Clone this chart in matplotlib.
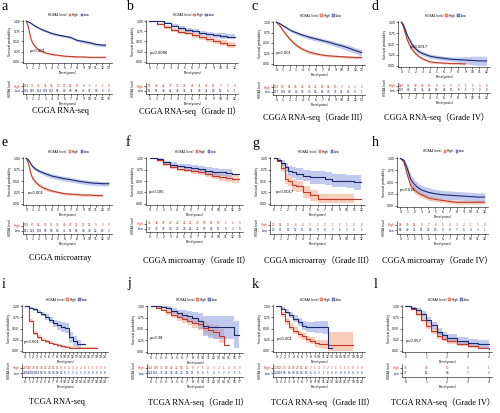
import numpy as np
import matplotlib.pyplot as plt
from matplotlib.patches import Patch

nan = np.nan

# ---- a : CGGA RNA-seq
a_t = [0, 0.25, 0.5, 0.75, 1, 1.5, 2, 2.5, 3, 4, 5, 6, 7, 8, 9, 10, 11, 12, 12.5]
a_high = [1.00, 0.90, 0.72, 0.56, 0.46, 0.36, 0.29, 0.25, 0.22, 0.18, 0.16, 0.14, 0.13, 0.12, 0.12, 0.11, 0.11, 0.11, 0.11]
a_high_ci = [0, 0.02, 0.03, 0.03, 0.03, 0.03, 0.03, 0.02, 0.02, 0.02, 0.02, 0.02, 0.02, 0.02, 0.02, 0.02, 0.02, 0.02, 0.02]
a_low = [1.00, 0.99, 0.97, 0.95, 0.92, 0.87, 0.83, 0.79, 0.76, 0.70, 0.66, 0.63, 0.60, 0.53, 0.50, 0.47, 0.43, 0.41, 0.41]
a_low_ci = [0, 0.01, 0.01, 0.02, 0.02, 0.02, 0.02, 0.03, 0.03, 0.03, 0.03, 0.03, 0.03, 0.03, 0.04, 0.04, 0.04, 0.04, 0.04]
a_ticks = list(range(0, 14))
a_risk_high = [162, 72, 45, 34, 26, 20, 17, 14, 11, 8, 5, 3, 1, 0]
a_risk_low = [163, 150, 134, 118, 102, 90, 80, 69, 58, 43, 30, 18, 6, 0]

# ---- b : CGGA RNA-seq (Grade II)
b_t = list(range(0, 13))
b_high = [1.00, 0.93, 0.85, 0.79, 0.74, 0.70, 0.65, 0.60, 0.55, 0.50, 0.46, 0.42, 0.42]
b_high_ci = [0, 0.03, 0.04, 0.05, 0.05, 0.05, 0.06, 0.06, 0.07, 0.07, 0.08, 0.08, 0.08]
b_low = [1.00, 1.00, 0.95, 0.89, 0.83, 0.79, 0.75, 0.71, 0.68, 0.65, 0.63, 0.62, 0.62]
b_low_ci = [0, 0.01, 0.03, 0.04, 0.04, 0.05, 0.05, 0.06, 0.06, 0.07, 0.07, 0.07, 0.07]
b_ticks = list(range(0, 13))
b_risk_high = [51, 48, 42, 37, 33, 29, 25, 21, 17, 12, 7, 3, 0]
b_risk_low = [52, 51, 48, 44, 40, 36, 32, 28, 24, 18, 12, 6, 1]

# ---- c : CGGA RNA-seq (Grade III)
c_t = [0, 0.5, 1, 1.5, 2, 2.5, 3, 4, 5, 6, 7, 8, 9, 10, 11, 12, 13]
c_high = [1.00, 0.92, 0.80, 0.70, 0.60, 0.52, 0.45, 0.35, 0.28, 0.24, 0.21, 0.19, 0.18, 0.17, 0.16, 0.15, 0.15]
c_high_ci = [0, 0.02, 0.03, 0.04, 0.04, 0.04, 0.04, 0.04, 0.04, 0.03, 0.03, 0.03, 0.03, 0.03, 0.03, 0.03, 0.03]
c_low = [1.00, 0.97, 0.92, 0.87, 0.82, 0.78, 0.75, 0.69, 0.64, 0.60, 0.56, 0.52, 0.47, 0.43, 0.38, 0.32, 0.27]
c_low_ci = [0, 0.01, 0.02, 0.03, 0.03, 0.04, 0.04, 0.04, 0.05, 0.05, 0.05, 0.05, 0.06, 0.06, 0.07, 0.07, 0.08]
c_ticks = list(range(0, 14))
c_risk_high = [118, 80, 52, 40, 32, 27, 22, 18, 14, 10, 7, 4, 2, 0]
c_risk_low = [117, 108, 96, 86, 78, 70, 62, 54, 45, 35, 25, 15, 6, 1]

# ---- d : CGGA RNA-seq (Grade IV)
d_t = [0, 0.25, 0.5, 0.75, 1, 1.5, 2, 2.5, 3, 4, 5, 6, 7, 8, 9, 10, 11, 12]
d_high = [1.00, 0.92, 0.78, 0.63, 0.53, 0.38, 0.28, 0.21, 0.16, 0.09, 0.07, 0.06, 0.05, 0.05, 0.04, nan, nan, nan]
d_high_ci = [0, 0.03, 0.04, 0.04, 0.04, 0.04, 0.04, 0.03, 0.03, 0.03, 0.02, 0.02, 0.02, 0.02, 0.02, 0, 0, 0]
d_low = [1.00, 0.95, 0.85, 0.73, 0.64, 0.49, 0.39, 0.32, 0.28, 0.22, 0.19, 0.17, 0.15, 0.14, 0.13, 0.12, 0.11, 0.11]
d_low_ci = [0, 0.02, 0.03, 0.04, 0.04, 0.05, 0.05, 0.05, 0.05, 0.05, 0.05, 0.05, 0.05, 0.06, 0.08, 0.10, 0.11, 0.11]
d_ticks = list(range(0, 13))
d_risk_high = [140, 66, 30, 18, 10, 6, 4, 3, 2, 1, 0, 0, 0]
d_risk_low = [139, 88, 52, 34, 24, 18, 14, 11, 8, 5, 3, 2, 0]

# ---- e : CGGA microarray
e_t = [0, 0.25, 0.5, 0.75, 1, 1.5, 2, 2.5, 3, 4, 5, 6, 7, 8, 9, 10, 11, 12, 13]
e_high = [1.00, 0.93, 0.80, 0.65, 0.56, 0.47, 0.41, 0.36, 0.33, 0.28, 0.25, 0.22, 0.21, 0.20, 0.19, 0.19, 0.18, 0.18, nan]
e_high_ci = [0, 0.02, 0.03, 0.03, 0.04, 0.04, 0.04, 0.04, 0.04, 0.03, 0.03, 0.03, 0.03, 0.03, 0.03, 0.03, 0.03, 0.03, 0]
e_low = [1.00, 0.98, 0.93, 0.87, 0.82, 0.76, 0.72, 0.69, 0.66, 0.61, 0.58, 0.55, 0.53, 0.50, 0.48, 0.46, 0.45, 0.44, 0.44]
e_low_ci = [0, 0.01, 0.02, 0.03, 0.04, 0.04, 0.04, 0.04, 0.05, 0.05, 0.05, 0.05, 0.05, 0.05, 0.05, 0.05, 0.05, 0.05, 0.05]
e_ticks = list(range(0, 14))
e_risk_high = [150, 87, 62, 49, 41, 35, 30, 27, 24, 20, 15, 9, 3, 0]
e_risk_low = [151, 124, 108, 98, 88, 80, 72, 65, 58, 48, 36, 22, 10, 2]

# ---- f : CGGA microarray (Grade II)
f_t = list(range(0, 14))
f_high = [1.00, 0.96, 0.88, 0.82, 0.77, 0.75, 0.72, 0.69, 0.66, 0.62, 0.58, 0.56, 0.55, 0.55]
f_high_ci = [0, 0.03, 0.04, 0.05, 0.05, 0.06, 0.06, 0.06, 0.07, 0.07, 0.08, 0.08, 0.09, 0.09]
f_low = [1.00, 0.98, 0.91, 0.86, 0.83, 0.81, 0.79, 0.76, 0.73, 0.70, 0.69, 0.68, 0.66, nan]
f_low_ci = [0, 0.02, 0.04, 0.05, 0.05, 0.06, 0.06, 0.07, 0.07, 0.08, 0.08, 0.09, 0.09, 0]
f_ticks = list(range(0, 14))
f_risk_high = [33, 32, 29, 27, 25, 24, 22, 20, 18, 15, 10, 5, 2, 0]
f_risk_low = [33, 33, 30, 28, 27, 26, 24, 22, 19, 16, 11, 6, 2, 0]

# ---- g : CGGA microarray (Grade III)
g_t = [0, 0.5, 1, 1.5, 2, 2.5, 3, 4, 5, 6, 7, 8, 9, 10, 11, 12]
g_high = [1.00, 0.95, 0.78, 0.55, 0.50, 0.42, 0.38, 0.26, 0.18, 0.11, 0.11, 0.11, 0.11, 0.11, 0.11, nan]
g_high_ci = [0, 0.04, 0.09, 0.12, 0.12, 0.13, 0.13, 0.13, 0.12, 0.10, 0.10, 0.10, 0.10, 0.10, 0.10, 0]
g_low = [1.00, 0.97, 0.90, 0.80, 0.72, 0.69, 0.66, 0.62, 0.58, 0.58, 0.55, 0.51, 0.51, 0.49, 0.47, 0.47]
g_low_ci = [0, 0.03, 0.07, 0.10, 0.12, 0.12, 0.13, 0.13, 0.14, 0.14, 0.14, 0.15, 0.15, 0.15, 0.16, 0.16]
g_ticks = list(range(0, 13))
g_risk_high = [20, 14, 8, 6, 4, 3, 2, 2, 1, 1, 1, 0, 0]
g_risk_low = [20, 17, 13, 12, 11, 10, 9, 8, 7, 5, 3, 2, 1]

# ---- h : CGGA microarray (Grade IV)
h_t = [0, 0.5, 1, 1.5, 2, 2.5, 3, 4, 5, 6, 7, 8, 9, 10, 11, 12]
h_high = [1.00, 0.93, 0.65, 0.42, 0.33, 0.27, 0.23, 0.16, 0.13, 0.11, 0.09, 0.07, 0.07, 0.07, 0.07, 0.07]
h_high_ci = [0, 0.04, 0.07, 0.07, 0.07, 0.06, 0.06, 0.05, 0.05, 0.04, 0.04, 0.04, 0.04, 0.04, 0.04, 0.04]
h_low = [1.00, 0.96, 0.78, 0.55, 0.45, 0.38, 0.33, 0.28, 0.25, 0.23, 0.22, 0.21, 0.20, 0.19, 0.18, 0.18]
h_low_ci = [0, 0.03, 0.08, 0.10, 0.10, 0.10, 0.10, 0.10, 0.09, 0.09, 0.09, 0.09, 0.09, 0.09, 0.09, 0.09]
h_ticks = list(range(0, 13))
h_risk_high = [58, 30, 14, 9, 7, 6, 5, 4, 3, 2, 1, 1, 0]
h_risk_low = [58, 40, 22, 15, 12, 10, 9, 8, 7, 6, 4, 3, 1]

# ---- i : TCGA RNA-seq
i_t = list(range(0, 19))
i_high = [1.00, 0.68, 0.40, 0.31, 0.25, 0.21, 0.18, 0.15, 0.12, 0.10, 0.08, 0.07, 0.07, 0.06, 0.06, 0.06, 0.06, 0.06, 0.06]
i_high_ci = [0, 0.04, 0.04, 0.04, 0.04, 0.03, 0.03, 0.03, 0.03, 0.03, 0.03, 0.03, 0.03, 0.03, 0.03, 0.03, 0.03, 0.03, 0.03]
i_low = [1.00, 0.97, 0.93, 0.88, 0.83, 0.76, 0.70, 0.62, 0.57, 0.53, 0.51, 0.30, 0.22, 0.14, 0.14, nan, nan, nan, nan]
i_low_ci = [0, 0.02, 0.03, 0.04, 0.05, 0.06, 0.07, 0.08, 0.10, 0.11, 0.12, 0.13, 0.12, 0.10, 0.10, 0, 0, 0, 0]
i_ticks = list(range(0, 21))
i_risk_high = [257, 150, 78, 50, 36, 27, 20, 15, 11, 8, 6, 4, 3, 2, 2, 1, 1, 1, 0, 0, 0]
i_risk_low = [258, 220, 170, 118, 80, 55, 38, 26, 18, 12, 8, 5, 3, 2, 1, 0, 0, 0, 0, 0, 0]

# ---- j : TCGA RNA-seq (Grade II)
j_t = list(range(0, 18))
j_high = [1.00, 0.97, 0.93, 0.87, 0.81, 0.76, 0.72, 0.68, 0.64, 0.60, 0.52, 0.48, 0.43, 0.35, 0.15, nan, nan, nan]
j_high_ci = [0, 0.02, 0.04, 0.06, 0.07, 0.08, 0.09, 0.10, 0.11, 0.12, 0.13, 0.14, 0.15, 0.16, 0.12, 0, 0, 0]
j_low = [1.00, 1.00, 0.99, 0.96, 0.90, 0.85, 0.82, 0.78, 0.74, 0.68, 0.56, 0.54, 0.54, 0.54, 0.54, 0.54, 0.37, 0.37]
j_low_ci = [0, 0.01, 0.02, 0.04, 0.06, 0.08, 0.10, 0.12, 0.14, 0.17, 0.22, 0.24, 0.25, 0.25, 0.25, 0.25, 0.30, 0.30]
j_ticks = list(range(0, 18))
j_risk_high = [124, 100, 70, 48, 32, 22, 16, 12, 9, 7, 5, 4, 3, 2, 1, 0, 0, 0]
j_risk_low = [124, 104, 75, 52, 36, 26, 20, 15, 11, 8, 6, 5, 4, 3, 2, 2, 1, 1]

# ---- k : TCGA RNA-seq (Grade III)
k_t = list(range(0, 19))
k_high = [1.00, 0.82, 0.66, 0.54, 0.45, 0.37, 0.32, 0.26, 0.22, 0.17, 0.15, 0.14, 0.12, 0.12, 0.12, 0.12, 0.12, 0.12, 0.12]
k_high_ci = [0, 0.05, 0.07, 0.08, 0.08, 0.08, 0.08, 0.08, 0.08, 0.08, 0.09, 0.10, 0.30, 0.30, 0.30, 0.30, 0.30, 0.30, 0.30]
k_low = [1.00, 0.95, 0.88, 0.80, 0.72, 0.64, 0.56, 0.53, 0.53, 0.53, 0.53, 0.53, 0.05, nan, nan, nan, nan, nan, nan]
k_low_ci = [0, 0.03, 0.05, 0.07, 0.08, 0.09, 0.10, 0.12, 0.12, 0.13, 0.14, 0.15, 0, 0, 0, 0, 0, 0, 0]
k_ticks = list(range(0, 21))
k_risk_high = [133, 105, 70, 45, 30, 20, 14, 10, 7, 5, 4, 3, 2, 2, 1, 1, 1, 1, 0, 0, 0]
k_risk_low = [132, 118, 90, 60, 40, 26, 16, 10, 6, 4, 3, 1, 0, 0, 0, 0, 0, 0, 0, 0, 0]

# ---- l : TCGA RNA-seq (Grade IV)
l_t = [0, 0.25, 0.5, 0.75, 1, 1.25, 1.5, 1.75, 2, 2.5, 3, 3.5, 4]
l_high = [1.00, 0.95, 0.83, 0.70, 0.55, 0.44, 0.34, 0.27, 0.22, 0.15, 0.11, 0.07, 0.04]
l_high_ci = [0, 0.03, 0.05, 0.06, 0.07, 0.07, 0.07, 0.06, 0.06, 0.05, 0.05, 0.04, 0.04]
l_low = [1.00, 0.97, 0.92, 0.83, 0.69, 0.57, 0.43, 0.35, 0.29, 0.22, 0.18, 0.15, 0.14]
l_low_ci = [0, 0.02, 0.04, 0.06, 0.07, 0.08, 0.08, 0.08, 0.08, 0.08, 0.08, 0.08, 0.08]
l_ticks = [0, 1, 2, 3, 4]
l_risk_high = [76, 38, 10, 4, 1]
l_risk_low = [77, 52, 16, 7, 3]

RED, RED_FILL = '#c0392b', '#f4a582'
BLUE, BLUE_FILL = '#1c2a6e', '#8f9de0'
W, H = 500, 413


def box(x0, y0, x1, y1):
    return [x0 / W, 1 - y1 / H, (x1 - x0) / W, (y1 - y0) / H]


def curve(ax, t, s, ci, col, fill, smooth):
    t = np.asarray(t, float)
    s = np.asarray(s, float)
    ci = np.asarray(ci, float)
    lo = np.clip(s - ci, 0, 1)
    hi = np.clip(s + ci, 0, 1)
    if smooth:
        # many small events: the steps melt into a smooth line
        ax.fill_between(t, lo, hi, color=fill, alpha=0.55, lw=0)
        ax.plot(t, s, color=col, lw=0.8)
    else:
        ax.fill_between(t, lo, hi, step='post', color=fill, alpha=0.55, lw=0)
        ax.step(t, s, where='post', color=col, lw=0.8)


def style(ax):
    for sp in ['top', 'right']:
        ax.spines[sp].set_visible(False)
    for sp in ['left', 'bottom']:
        ax.spines[sp].set_linewidth(0.4)
    ax.tick_params(length=1.2, width=0.4, pad=0.8, labelsize=2.2)


panels = [
    ('a', 'CGGA RNA-seq', a_t, a_high, a_high_ci, a_low, a_low_ci, a_ticks, a_risk_high, a_risk_low, 'p<0.001', (0.08, 0.26), True),
    ('b', 'CGGA RNA-seq（Grade II）', b_t, b_high, b_high_ci, b_low, b_low_ci, b_ticks, b_risk_high, b_risk_low, 'p=0.0088', (0.04, 0.22), False),
    ('c', 'CGGA RNA-seq（Grade III）', c_t, c_high, c_high_ci, c_low, c_low_ci, c_ticks, c_risk_high, c_risk_low, 'p<0.001', (0.03, 0.24), True),
    ('d', 'CGGA RNA-seq（Grade IV）', d_t, d_high, d_high_ci, d_low, d_low_ci, d_ticks, d_risk_high, d_risk_low, 'p=0.0017', (0.13, 0.42), True),
    ('e', 'CGGA microarray', e_t, e_high, e_high_ci, e_low, e_low_ci, e_ticks, e_risk_high, e_risk_low, 'p<0.001', (0.05, 0.22), True),
    ('f', 'CGGA microarray（Grade II）', f_t, f_high, f_high_ci, f_low, f_low_ci, f_ticks, f_risk_high, f_risk_low, 'p=0.185', (0.03, 0.26), False),
    ('g', 'CGGA microarray（Grade III）', g_t, g_high, g_high_ci, g_low, g_low_ci, g_ticks, g_risk_high, g_risk_low, 'p=0.0017', (0.06, 0.26), False),
    ('h', 'CGGA microarray（Grade IV）', h_t, h_high, h_high_ci, h_low, h_low_ci, h_ticks, h_risk_high, h_risk_low, 'p=0.016', (0.03, 0.32), True),
    ('i', 'TCGA RNA-seq', i_t, i_high, i_high_ci, i_low, i_low_ci, i_ticks, i_risk_high, i_risk_low, 'p<0.001', (0.02, 0.2), False),
    ('j', 'TCGA RNA-seq（Grade II）', j_t, j_high, j_high_ci, j_low, j_low_ci, j_ticks, j_risk_high, j_risk_low, 'p=0.38', (0.03, 0.3), False),
    ('k', 'TCGA RNA-seq（Grade III）', k_t, k_high, k_high_ci, k_low, k_low_ci, k_ticks, k_risk_high, k_risk_low, 'p<0.001', (0.04, 0.26), False),
    ('l', 'TCGA RNA-seq（Grade IV）', l_t, l_high, l_high_ci, l_low, l_low_ci, l_ticks, l_risk_high, l_risk_low, 'p=0.057', (0.04, 0.22), False),
]

# pixel layout: km box, risk box, caption centre, letter position
layout = [
    ((23, 20, 112, 63), (23, 83, 112, 94), (60, 111), (2, 7)),
    ((146, 20, 238, 63), (146, 83, 238, 94), (190, 111), (126, 7)),
    ((273, 21, 365, 65), (273, 84, 365, 95), (315, 117), (252, 7)),
    ((398, 21, 490, 67), (398, 83, 490, 93), (437, 117), (372, 7)),
    ((23, 157, 112, 205), (23, 222, 112, 234), (60, 258), (2, 143)),
    ((146, 157, 243, 205), (146, 220, 243, 232), (197, 260), (126, 143)),
    ((270, 157, 365, 205), (270, 221, 365, 234), (319, 260), (252, 143)),
    ((397, 157, 488, 207), (397, 221, 488, 234), (437, 260), (372, 143)),
    ((22, 305, 108, 352), (22, 364, 108, 377), (57, 402), (2, 284)),
    ((147, 305, 243, 353), (147, 364, 243, 377), (198, 402), (127, 284)),
    ((273, 305, 365, 352), (273, 364, 365, 377), (323, 402), (252, 285)),
    ((402, 305, 492, 352), (402, 364, 492, 377), (443, 402), (374, 285)),
]

fig = plt.figure(figsize=(5.0, 4.13), dpi=100)

for p, (kmb, rkb, cap, let) in zip(panels, layout):
    letter, caption, t, hs, hci, ls, lci, ticks, rh, rl, pval, ppos, smooth = p
    xmax = ticks[-1]

    ax = fig.add_axes(box(*kmb))
    curve(ax, t, hs, hci, RED, RED_FILL, smooth)
    curve(ax, t, ls, lci, BLUE, BLUE_FILL, smooth)
    ax.set_xlim(-xmax * 0.04, xmax * 1.04)
    ax.set_ylim(-0.03, 1.03)
    ax.set_xticks(ticks)
    ax.set_yticks([0, 0.25, 0.5, 0.75, 1.0])
    ax.set_yticklabels(['0.00', '0.25', '0.50', '0.75', '1.00'])
    ax.set_xlabel('Time(years)', fontsize=2.2, labelpad=0.8)
    ax.set_ylabel('Survival probability', fontsize=2.2, labelpad=0.8)
    style(ax)
    ax.text(*ppos, pval, transform=ax.transAxes, fontsize=2.6)
    handles = [Patch(facecolor='none', edgecolor='none'),
               Patch(facecolor=RED_FILL, edgecolor=RED, lw=0.3),
               Patch(facecolor=BLUE_FILL, edgecolor=BLUE, lw=0.3)]
    ax.legend(handles, ['HOXA4 level', 'High', 'Low'], ncol=3, fontsize=2.2,
              loc='lower center', bbox_to_anchor=(0.5, 1.04), frameon=False,
              handlelength=0.8, handleheight=0.8, handletextpad=0.3,
              columnspacing=0.6, borderpad=0)

    rx = fig.add_axes(box(*rkb))
    for x, n in zip(ticks, rh):
        rx.text(x, 1, str(n), color=RED, fontsize=2.0, ha='center', va='center')
    for x, n in zip(ticks, rl):
        rx.text(x, 0, str(n), color=BLUE, fontsize=2.0, ha='center', va='center')
    rx.set_xlim(ax.get_xlim())
    rx.set_ylim(-0.7, 1.7)
    rx.set_xticks(ticks)
    rx.set_yticks([0, 1])
    rx.set_yticklabels(['Low', 'High'])
    rx.get_yticklabels()[0].set_color(BLUE)
    rx.get_yticklabels()[1].set_color(RED)
    rx.set_xlabel('Time(years)', fontsize=2.2, labelpad=0.8)
    rx.set_ylabel('HOXA4 level', fontsize=2.0, labelpad=0.8)
    style(rx)

    fig.text(let[0] / W, 1 - let[1] / H, letter, fontsize=10, family='Liberation Serif',
             ha='left', va='center')
    fig.text(cap[0] / W, 1 - cap[1] / H, caption, fontsize=6,
             family=['Liberation Serif', 'Noto Sans CJK SC'], ha='center', va='center')

fig.savefig('out.png', dpi=100)
